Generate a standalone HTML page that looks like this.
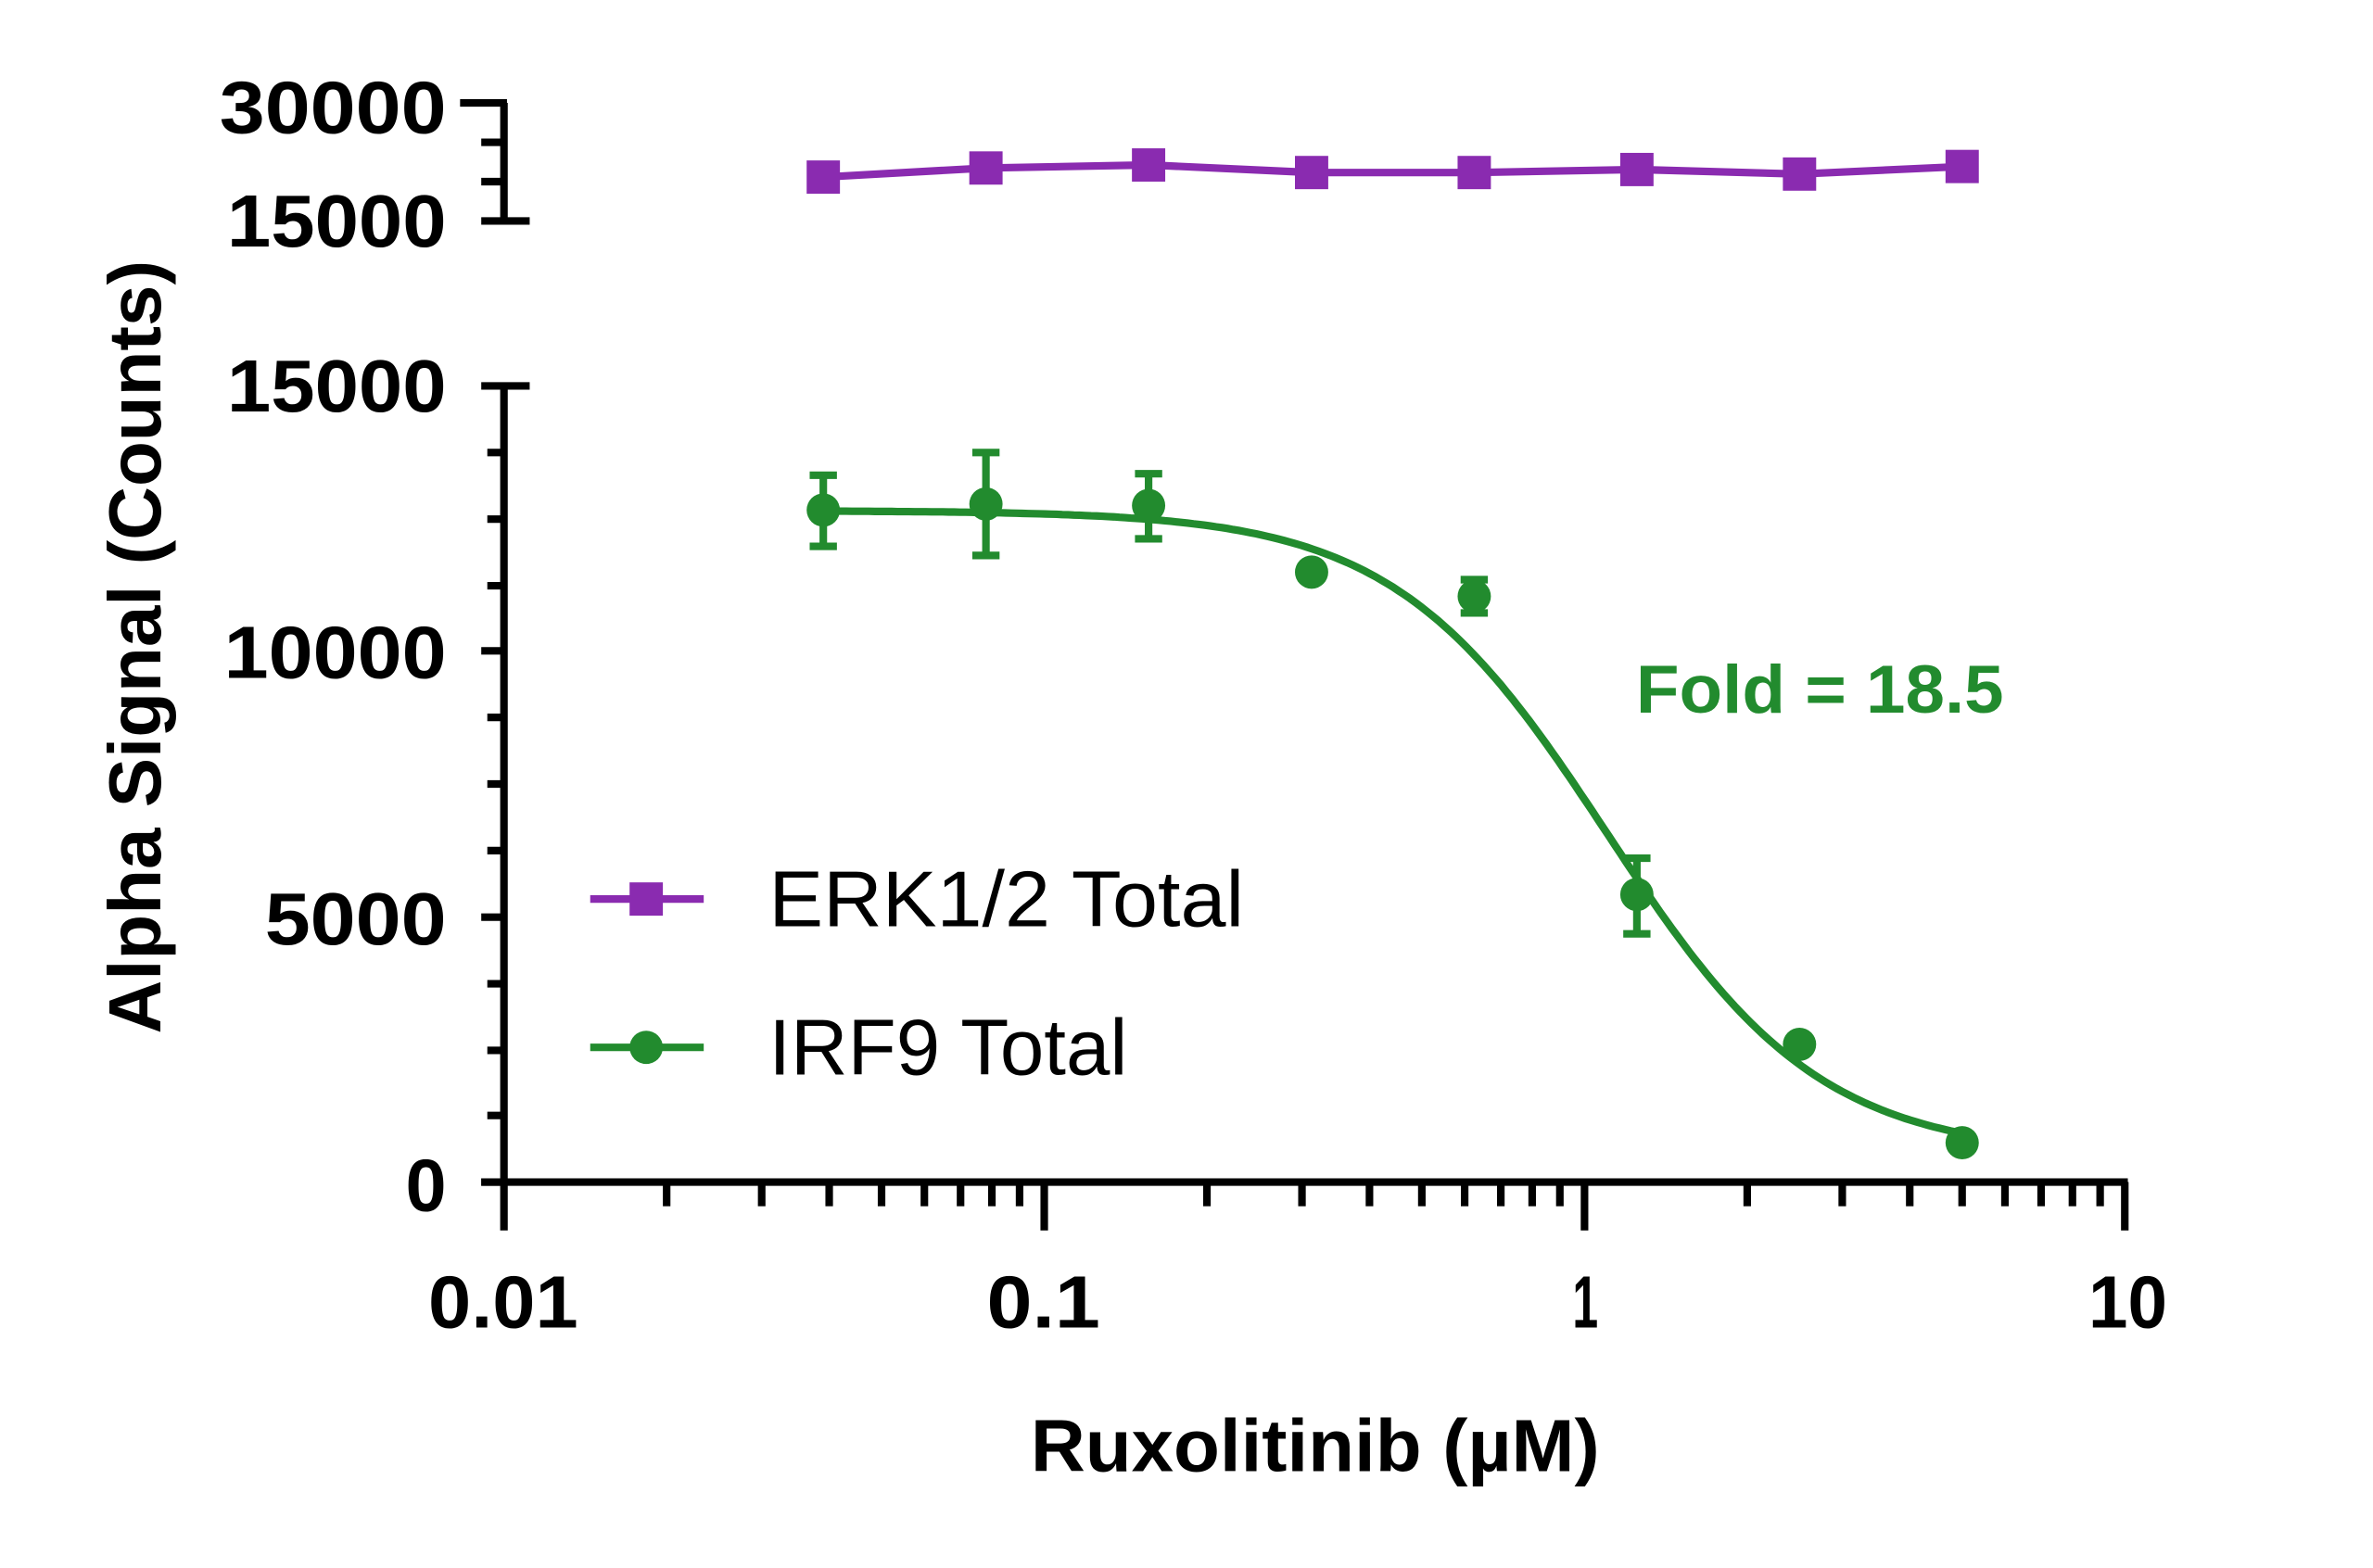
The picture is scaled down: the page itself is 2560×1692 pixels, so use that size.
<!DOCTYPE html>
<html><head><meta charset="utf-8"><style>html,body{margin:0;padding:0;background:#fff}svg{display:block}</style></head>
<body>
<svg id="s" width="2560" height="1692" viewBox="0 0 1568 1036" preserveAspectRatio="none" xmlns="http://www.w3.org/2000/svg" font-family="Liberation Sans, sans-serif">
<rect width="1568" height="1036" fill="#fff"/>
<g stroke="#000" stroke-width="5" fill="none">
<path d="M333 68V146M304 68H335M318 94H333M318 120H333M318 146H350"/>
<path d="M333 255V781M318 255H350M318 430H333M318 606H333M318 781H333"/>
<path d="M322 299H333M322 343H333M322 387H333M322 474H333M322 518H333M322 562H333M322 650H333M322 694H333M322 737H333"/>
<path d="M318 781H1406"/>
<g id="xt"></g>
</g>
<g font-weight="bold" font-size="49" fill="#000">
<text x="145" y="88" textLength="150" lengthAdjust="spacingAndGlyphs">30000</text>
<text x="150" y="163" textLength="145" lengthAdjust="spacingAndGlyphs">15000</text>
<text x="150" y="272" textLength="145" lengthAdjust="spacingAndGlyphs">15000</text>
<text x="148" y="448" textLength="147" lengthAdjust="spacingAndGlyphs">10000</text>
<text x="175" y="624" textLength="120" lengthAdjust="spacingAndGlyphs">5000</text>
<text x="268" y="800" textLength="27" lengthAdjust="spacingAndGlyphs">0</text>
<text x="283" y="877" textLength="99" lengthAdjust="spacingAndGlyphs">0.01</text>
<text x="652" y="877" textLength="75" lengthAdjust="spacingAndGlyphs">0.1</text>
<text x="1039" y="877" textLength="17" lengthAdjust="spacingAndGlyphs">1</text>
<text x="1380" y="877" textLength="52" lengthAdjust="spacingAndGlyphs">10</text>
<text x="681" y="972" textLength="376" lengthAdjust="spacingAndGlyphs">Ruxolitinib (µM)</text>
<text transform="translate(106,683) rotate(-90)" textLength="511" lengthAdjust="spacingAndGlyphs">Alpha Signal (Counts)</text>
</g>
<text x="1081" y="471" font-weight="bold" font-size="45" fill="#228B2E" textLength="243" lengthAdjust="spacingAndGlyphs">Fold = 18.5</text>
<g id="data"></g>
<path d="M390 594H465" stroke="#8A2BB0" stroke-width="5"/>
<rect x="416" y="583" width="22" height="22" fill="#8A2BB0"/>
<text x="508" y="612" font-size="52" fill="#000" textLength="314" lengthAdjust="spacingAndGlyphs">ERK1/2 Total</text>
<path d="M390 692H465" stroke="#228B2E" stroke-width="5"/>
<circle cx="427" cy="692" r="11" fill="#228B2E"/>
<text x="508" y="710" font-size="52" fill="#000" textLength="237" lengthAdjust="spacingAndGlyphs">IRF9 Total</text>
</svg>
<script>
var NS="http://www.w3.org/2000/svg";
function X(c){return 333+357*Math.log10(c/0.01);}
var xt="";
for(var d=0;d<3;d++){for(var k=2;k<=9;k++){var x=X(0.01*Math.pow(10,d)*k);xt+="M"+x.toFixed(1)+" 781V797";}}
xt+="M333 781V813M690 781V813M1047 781V813M1404 781V813";
var p=document.createElementNS(NS,"path");p.setAttribute("d",xt);document.getElementById("xt").appendChild(p);
var g=document.getElementById("data"),h="";
var cs=[0.039,0.078,0.156,0.3125,0.625,1.25,2.5,5];
var d="";
for(var i=0;i<=200;i++){var lc=Math.log10(0.039)+(Math.log10(5)-Math.log10(0.039))*i/200;var c=Math.pow(10,lc);
var v=500+12150/(1+Math.pow(c/1.1,2.2));var y=781-v*526/15000;d+=(i?"L":"M")+X(c).toFixed(1)+" "+y.toFixed(1);}
h+='<path d="'+d+'" stroke="#228B2E" stroke-width="5" fill="none"/>';
var gy=[337,333,334,378,394,591,690,755];
var eb=[[314,361],[299,367],[313,356],null,[383,405],[567,617],null,null];
for(var i=0;i<8;i++){var x=X(cs[i]);
if(eb[i]){h+='<path d="M'+x+' '+eb[i][0]+'V'+eb[i][1]+'M'+(x-9)+' '+eb[i][0]+'H'+(x+9)+'M'+(x-9)+' '+eb[i][1]+'H'+(x+9)+'" stroke="#228B2E" stroke-width="5" fill="none"/>';}
h+='<circle cx="'+x+'" cy="'+gy[i]+'" r="11" fill="#228B2E"/>';}
var py=[117,111,109,114,114,112,115,110];var pd="";
for(var i=0;i<8;i++){pd+=(i?"L":"M")+X(cs[i])+" "+py[i];}
h+='<path d="'+pd+'" stroke="#8A2BB0" stroke-width="5" fill="none"/>';
for(var i=0;i<8;i++){h+='<rect x="'+(X(cs[i])-11)+'" y="'+(py[i]-11)+'" width="22" height="22" fill="#8A2BB0"/>';}
g.innerHTML=h;
</script>
</body></html>
